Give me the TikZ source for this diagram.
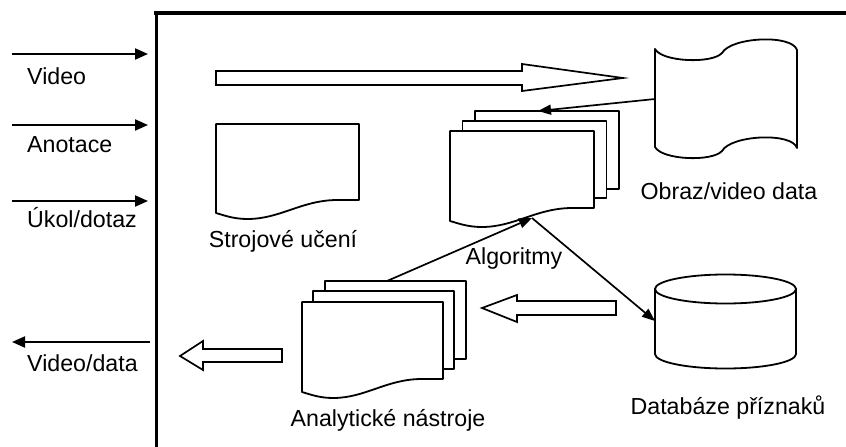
\documentclass[tikz,border=0pt]{standalone}
\usepackage{fontspec}
\setmainfont{Liberation Sans}
\usetikzlibrary{arrows.meta}
\tikzset{
  lbl/.style={font=\fontsize{23.2}{27}\selectfont, inner sep=0pt, anchor=base},
  inarrow/.style={line width=2pt, -{Triangle[length=13pt,width=11pt]}},
  link/.style={line width=1.7pt, -{Triangle[length=13pt,width=10pt]}},
  outline/.style={line width=1.8pt, fill=white, line join=round},
  hollow/.style={line width=1.7pt, fill=white, line join=miter},
}
% document page with a wavy lower edge: x, top, width, height at the right edge
\newcommand\docpage[4]{%
  \draw[outline] (#1,#2) -- ({#1+#3},#2) -- ({#1+#3},{#2+#4})
    -- ({#1+0.85*#3},{#2+#4})
    .. controls ({#1+0.6*#3},{#2+#4}) and ({#1+0.45*#3},{#2+#4+19}) .. ({#1+0.22*#3},{#2+#4+19})
    .. controls ({#1+0.12*#3},{#2+#4+19}) and ({#1+0.05*#3},{#2+#4+15}) .. (#1,{#2+#4+13})
    -- cycle;}
% plain page behind a stack
\newcommand\pagerect[4]{\draw[outline] (#1,#2) rectangle ({#1+#3},{#2+#4});}

\begin{document}
\begin{tikzpicture}[x=1pt,y=-1pt]
\useasboundingbox (0,0) rectangle (846,447);

% system frame
\draw[line width=4pt] (154,13) -- (846,13);
\draw[line width=3pt] (156,11) -- (156,447);

% inputs and output on the left
\coordinate (in1a) at (12,54);  \coordinate (in1b) at (148,54);
\coordinate (in2a) at (12,125); \coordinate (in2b) at (148,125);
\coordinate (in3a) at (12,201); \coordinate (in3b) at (148,201);
\coordinate (outa) at (150,342); \coordinate (outb) at (12,342);
\draw[inarrow] (in1a) -- (in1b);
\draw[inarrow] (in2a) -- (in2b);
\draw[inarrow] (in3a) -- (in3b);
\draw[inarrow] (outa) -- (outb);
\node[lbl, anchor=base west] (tvideo) at (27,84) {Video};
\node[lbl, anchor=base west] (tanot) at (27,152) {Anotace};
\node[lbl, anchor=base west] (tukol) at (27,227) {Úkol/dotaz};
\node[lbl, anchor=base west] (tout) at (27,371) {Video/data};

% hollow block arrows
\draw[hollow] (216,71) -- (522,71) -- (522,64) -- (623,78) -- (522,91) -- (522,85) -- (216,85) -- cycle;
\draw[hollow] (616,301) -- (517,301) -- (517,295) -- (482,308) -- (517,322) -- (517,315) -- (616,315) -- cycle;
\draw[hollow] (282,349) -- (203,349) -- (203,341) -- (180,356) -- (203,370) -- (203,362) -- (282,362) -- cycle;

% machine learning
\docpage{216}{124}{143}{76}
\node[lbl] (tstroj) at (283,247) {Strojové učení};

% algorithms stack
\pagerect{475}{111}{144}{78}
\pagerect{462.5}{121}{144}{77}
\docpage{450}{131}{144}{77}
\node[lbl] (talgo) at (514,264) {Algoritmy};

% analytic tools stack
\pagerect{325}{281}{141}{78}
\pagerect{313}{291}{141}{78}
\docpage{302}{302}{141}{77}
\node[lbl] (tanal) at (388,426) {Analytické nástroje};

% image / video data (punched tape)
\draw[outline] (655,49) .. controls (662,62) and (712,64) .. (722,53)
  .. controls (731,37) and (792,34) .. (797,50) -- (797,148)
  .. controls (792,132) and (731,135) .. (722,151)
  .. controls (712,162) and (662,160) .. (655,147) -- cycle;
\node[lbl] (tobraz) at (729,199) {Obraz/video data};

% feature database
\draw[outline] (655,289) -- (655,354) arc[start angle=180, end angle=360, x radius=70.5pt, y radius=14.5pt] -- (796,289) -- cycle;
\draw[outline] (725.5,289) ellipse[x radius=70.5pt, y radius=14.5pt];
\node[lbl] (tdb) at (728,414) {Databáze příznaků};

% connectors
\coordinate (obrazL) at (655,99);
\coordinate (algoTop) at (538,111);
\coordinate (algoBot) at (532,218);
\coordinate (analTop) at (387,281);
\coordinate (dbL) at (655,321);
\draw[link] (obrazL) -- (algoTop);
\draw[link] (analTop) -- (algoBot);
\draw[link] (algoBot) -- (dbL);
\end{tikzpicture}
\end{document}
